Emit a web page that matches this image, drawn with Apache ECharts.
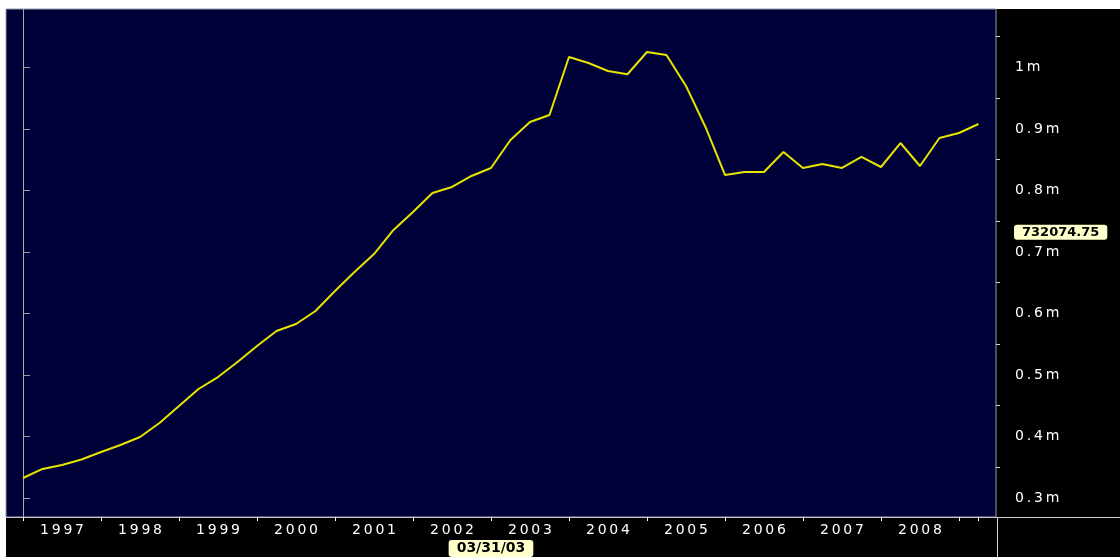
<!DOCTYPE html>
<html>
<head>
<meta charset="utf-8">
<script src="https://cdn.jsdelivr.net/npm/echarts@6/dist/echarts.min.js"></script>
<style>
html, body { margin: 0; padding: 0; background: #fff; }
#main { width: 1120px; height: 557px; }
</style>
</head>
<body>
<div id="main"></div>
<script>
// quarterly series, first point = Q1 1997
var years = ['1997', '1998', '1999', '2000', '2001', '2002', '2003', '2004', '2005', '2006', '2007', '2008'];
var quarterValues = [
    332500, 347200, 353700, 362600, 374800, 386200, 399200, 422000,
    449600, 477200, 496700, 521100, 547200, 571500, 582900, 604000,
    636600, 667500, 696700, 735800, 765000, 795900, 805700, 823600,
    836600, 882100, 911400, 922800, 1017100, 1007300, 994300, 989000,
    1025200, 1020300, 970000, 903300, 825200, 830000, 830000, 862600,
    836600, 843100, 836600, 854500, 838200, 877200, 839800, 885400,
    893500, 908100
];
var yTickValues = [300000, 400000, 500000, 600000, 700000, 800000, 900000, 1000000];
var yMinorValues = [350000, 450000, 550000, 650000, 750000, 850000, 950000, 1050000];
var cursorIndex = 24;
var cursorDate = '03/31/03';
var cursorValue = 732074.75;

var spaced = function (s) {
    return String(s).split('').join('\u2009');
};

var xTickValues = years.map(function (y, k) { return k * 4; }).concat([48, 49]);
var xLabelValues = years.map(function (y, k) { return k * 4 + 2; });
var seriesData = quarterValues.map(function (v, i) { return [i, v]; });

var chart = echarts.init(document.getElementById('main'));
chart.setOption({
    animation: false,
    backgroundColor: '#ffffff',
    textStyle: { fontFamily: 'DejaVu Sans' },
    graphic: [
        { type: 'rect', z: -10, shape: { x: 6, y: 9, width: 1114, height: 548 }, style: { fill: '#000000' } },
        { type: 'line', z: 10, shape: { x1: 996, y1: 517.5, x2: 1120, y2: 517.5 }, style: { stroke: '#d0d0d0', lineWidth: 1 } },
        { type: 'line', z: 10, shape: { x1: 997.5, y1: 517, x2: 997.5, y2: 557 }, style: { stroke: '#d0d0d0', lineWidth: 1 } }
    ],
    grid: {
        left: 6, top: 9, width: 990, height: 508,
        show: true,
        backgroundColor: '#000038',
        borderColor: '#9a9aaa',
        borderWidth: 1
    },
    xAxis: {
        type: 'value',
        min: -0.872,
        max: 49.9,
        splitLine: { show: false },
        axisLine: { show: true, lineStyle: { color: '#c8c8c8', width: 1 } },
        axisTick: {
            show: true, length: 4, customValues: xTickValues,
            lineStyle: { color: '#ffffff' }
        },
        axisLabel: {
            customValues: xLabelValues,
            color: '#ffffff', fontSize: 14, margin: 6,
            formatter: function (v) { return spaced(years[Math.round((v - 2) / 4)]); }
        },
        axisPointer: {
            show: true,
            status: 'show',
            value: cursorIndex,
            triggerTooltip: false,
            lineStyle: { width: 0, opacity: 0 },
            label: {
                show: true,
                margin: 29,
                formatter: function () { return cursorDate; },
                color: '#000000',
                fontSize: 14,
                fontWeight: 'bold',
                backgroundColor: '#ffffcc',
                borderColor: '#000000',
                borderWidth: 1,
                padding: [1, 8, 2, 8]
            }
        }
    },
    yAxis: [{
        type: 'value',
        position: 'right',
        min: 269100,
        max: 1095100,
        splitLine: { show: false },
        axisLine: { show: true, lineStyle: { color: '#a8a8b0', width: 1 } },
        axisTick: {
            show: true, length: 7, customValues: yTickValues,
            lineStyle: { color: '#9a9a9a', width: 1 }
        },
        axisLabel: {
            customValues: yTickValues,
            color: '#ffffff', fontSize: 14, margin: 19,
            formatter: function (v) { return spaced(Math.round(v / 100000) / 10 + 'm'); }
        },
        axisPointer: {
            show: true,
            status: 'show',
            value: cursorValue,
            triggerTooltip: false,
            lineStyle: { width: 0, opacity: 0 },
            label: {
                show: true,
                margin: 18,
                formatter: function () { return '732074.75'; },
                color: '#000000',
                fontSize: 13,
                fontWeight: 'bold',
                backgroundColor: '#ffffcc',
                padding: [1, 8, 1, 8]
            }
        }
    }, {
        type: 'value',
        position: 'right',
        min: 269100,
        max: 1095100,
        splitLine: { show: false },
        axisLine: { show: false },
        axisTick: {
            show: true, length: 4, customValues: yMinorValues,
            lineStyle: { color: '#cfcfcf', width: 1 }
        },
        axisLabel: { show: false }
    }],
    series: [{
        type: 'line',
        data: seriesData,
        showSymbol: false,
        lineStyle: { color: '#e8e400', width: 2 },
        yAxisIndex: 0
    }]
});
</script>
</body>
</html>
